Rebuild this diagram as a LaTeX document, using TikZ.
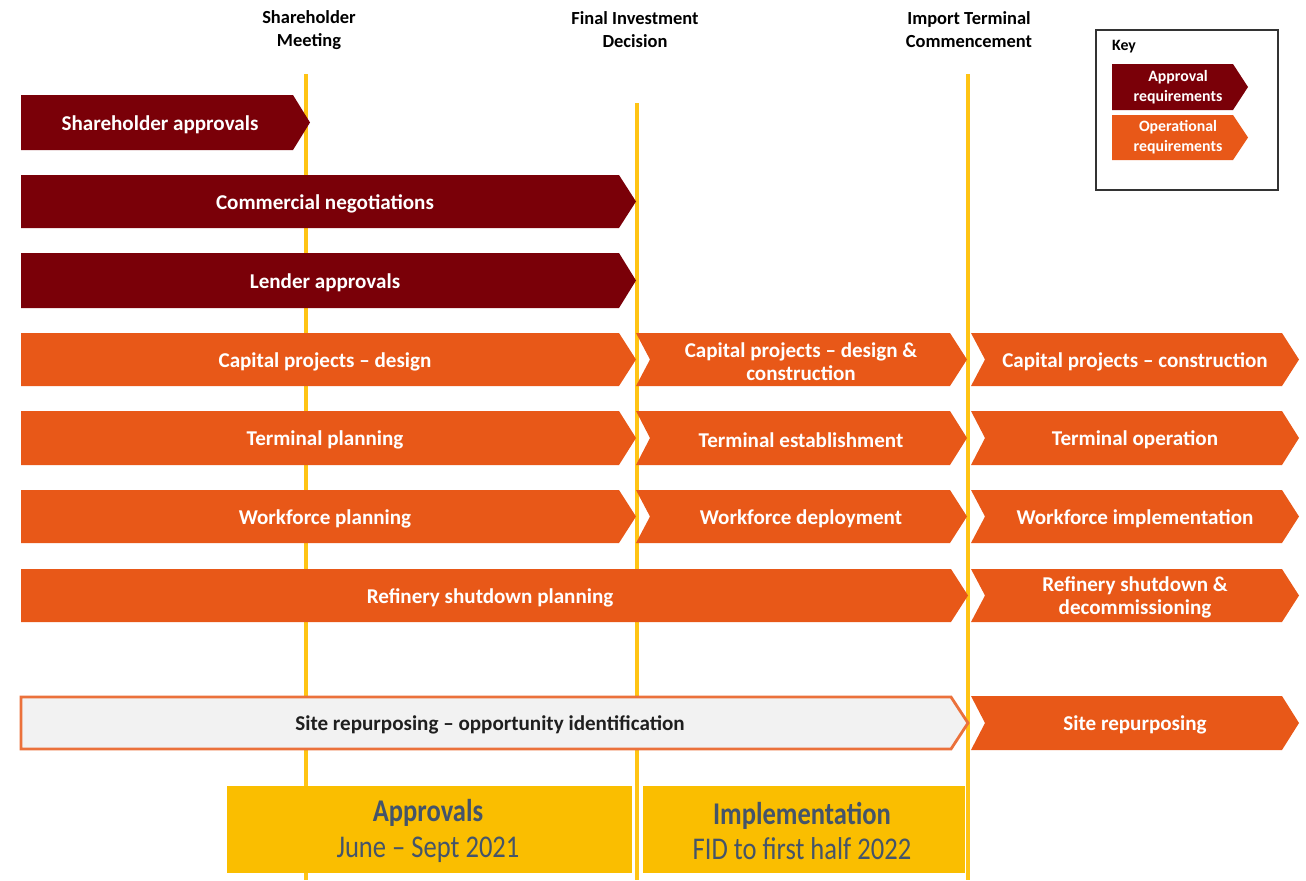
\documentclass[tikz,border=0pt]{standalone}
\usepackage{fontspec}
\setmainfont{Carlito}
\newfontfamily\narrowfont[FakeStretch=0.84]{Carlito}
\usetikzlibrary{positioning}
\definecolor{apprred}{RGB}{122, 0, 8}
\definecolor{operorange}{RGB}{232, 88, 24}
\definecolor{mileyellow}{RGB}{255, 196, 20}
\definecolor{phasegold}{RGB}{250, 190, 0}
\definecolor{phasetext}{RGB}{68, 84, 106}
\definecolor{idgrey}{RGB}{242, 242, 242}

\begin{document}
\begin{tikzpicture}[x=0.02cm, y=-0.02cm,
    barlabel/.style={font=\bfseries\fontsize{12}{13}\selectfont, text=white, align=center, yshift=-1.2pt},
    milelabel/.style={font=\bfseries\fontsize{10.5}{13}\selectfont, align=center},
    keylabel/.style={font=\bfseries\fontsize{9}{11.5}\selectfont, text=white, align=center},
    phaselabel/.style={align=center, text=phasetext, font=\narrowfont\fontsize{18}{20}\selectfont},
    milestone/.style={mileyellow, line width=2.3pt}]
  \useasboundingbox (0,0) rectangle (1306,880);

  % milestone lines (behind the bars)
  \draw[milestone] (306,74) -- (306,880);
  \draw[milestone] (637,103) -- (637,880);
  \draw[milestone] (968,74) -- (968,880);

  % milestone titles
  \node[milelabel] (msmeet) at (309,30) {Shareholder\\Meeting};
  \node[milelabel] (msfid) at (635,30) {Final Investment\\Decision};
  \node[milelabel] (msimport) at (969,30) {Import Terminal\\Commencement};

  % approval requirements
  \fill[apprred] (21,95) -- (293,95) -- (310,122.5) -- (293,150) -- (21,150) -- cycle;
  \node[barlabel] (shapprov) at (160,122.5) {Shareholder approvals};
  \fill[apprred] (21,175) -- (619,175) -- (636,201.5) -- (619,228) -- (21,228) -- cycle;
  \node[barlabel] (commneg) at (325,201.5) {Commercial negotiations};
  \fill[apprred] (21,253) -- (619,253) -- (636,280.5) -- (619,308) -- (21,308) -- cycle;
  \node[barlabel] (lendappr) at (325,280.5) {Lender approvals};

  % operational requirements, three phases per row
  \foreach \yt/\yb in {333/386, 411/465, 490/543} {
    \fill[operorange] (21,\yt) -- (619,\yt) -- (636,{(\yt+\yb)/2}) -- (619,\yb) -- (21,\yb) -- cycle;
    \fill[operorange] (636,\yt) -- (950,\yt) -- (967,{(\yt+\yb)/2}) -- (950,\yb) -- (636,\yb)
      -- (650,{(\yt+\yb)/2}) -- cycle;
    \fill[operorange] (971,\yt) -- (1282,\yt) -- (1299,{(\yt+\yb)/2}) -- (1282,\yb) -- (971,\yb)
      -- (985,{(\yt+\yb)/2}) -- cycle;
  }
  \node[barlabel] (capdesign) at (325,359.5) {Capital projects \textendash{} design};
  \node[barlabel] (capdc) at (801,359.5) {Capital projects \textendash{} design \&\\construction};
  \node[barlabel] (capcons) at (1135,359.5) {Capital projects \textendash{} construction};
  \node[barlabel] (termplan) at (325,438) {Terminal planning};
  \node[barlabel] (termest) at (801,438) {Terminal establishment};
  \node[barlabel] (termop) at (1135,438) {Terminal operation};
  \node[barlabel] (wfplan) at (325,516.5) {Workforce planning};
  \node[barlabel] (wfdeploy) at (801,516.5) {Workforce deployment};
  \node[barlabel] (wfimpl) at (1135,516.5) {Workforce implementation};

  % refinery shutdown
  \fill[operorange] (21,569) -- (951,569) -- (968,595.5) -- (951,622) -- (21,622) -- cycle;
  \node[barlabel] (refplan) at (490,595.5) {Refinery shutdown planning};
  \fill[operorange] (971,569) -- (1282,569) -- (1299,595.5) -- (1282,622) -- (971,622)
    -- (985,595.5) -- cycle;
  \node[barlabel] (refdecom) at (1135,595.5) {Refinery shutdown \&\\decommissioning};

  % site repurposing
  \filldraw[fill=idgrey, draw=operorange!85, line width=1.6pt]
    (21,697) -- (951,697) -- (968,723) -- (951,749) -- (21,749) -- cycle;
  \node[barlabel, text=black!88] (siteid) at (490,723)
    {Site repurposing \textendash{} opportunity identification};
  \fill[operorange] (971,696) -- (1282,696) -- (1299,723) -- (1282,750) -- (971,750)
    -- (985,723) -- cycle;
  \node[barlabel] (siterep) at (1135,723) {Site repurposing};

  % phase boxes
  \fill[phasegold] (227,786) rectangle (632,873);
  \node[phaselabel] (phaseappr) at (428,831) {\textbf{Approvals}\\June \textendash{} Sept 2021};
  \fill[phasegold] (643,786) rectangle (965,873);
  \node[phaselabel] (phaseimpl) at (802,831) {\textbf{Implementation}\\FID to first half 2022};

  % key
  \draw[black!80, line width=1pt] (1096,30) rectangle (1278,190);
  \node[font=\bfseries\fontsize{9}{10}\selectfont, anchor=west] (keytitle) at (1106,47) {Key};
  \fill[apprred] (1112,64) -- (1233,64) -- (1248,87) -- (1233,110) -- (1112,110) -- cycle;
  \node[keylabel] (keyappr) at (1178,87) {Approval\\requirements};
  \fill[operorange] (1112,115) -- (1233,115) -- (1248,137.5) -- (1233,160) -- (1112,160) -- cycle;
  \node[keylabel] (keyoper) at (1178,137.5) {Operational\\requirements};
\end{tikzpicture}
\end{document}
